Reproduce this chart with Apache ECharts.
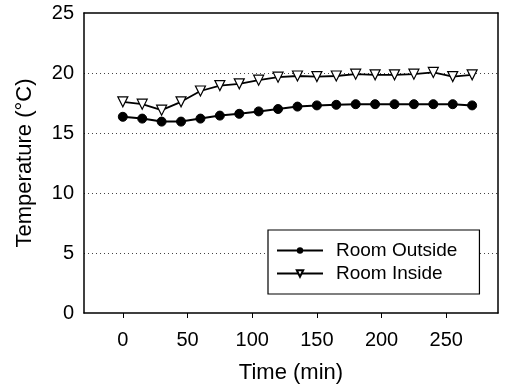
<!DOCTYPE html>
<html>
<head>
<meta charset="utf-8">
<script src="https://cdn.jsdelivr.net/npm/echarts@6/dist/echarts.min.js"></script>
<style>
  html, body { margin: 0; padding: 0; background: #fff; }
  #chart { width: 508px; height: 386px; }
</style>
</head>
<body>
<div id="chart"></div>
<script>
// valeurs
var timeMin = [0, 15, 30, 45, 60, 75, 90, 105, 120, 135, 150, 165, 180, 195, 210, 225, 240, 255, 270];
var roomOutside = [16.35, 16.2, 15.95, 15.95, 16.2, 16.45, 16.6, 16.8, 17.0, 17.2, 17.3, 17.35, 17.4, 17.4, 17.4, 17.4, 17.4, 17.4, 17.3];
var roomInside = [17.6, 17.4, 16.9, 17.6, 18.5, 18.95, 19.1, 19.4, 19.65, 19.75, 19.7, 19.75, 19.9, 19.85, 19.85, 19.9, 20.05, 19.7, 19.85];
var xTicks = [0, 50, 100, 150, 200, 250];

var fontFamily = '"Liberation Sans", Arial, sans-serif';

function pairs(xs, ys) {
  return xs.map(function (x, i) { return [x, ys[i]]; });
}

var chart = echarts.init(document.getElementById('chart'), null, {renderer: 'canvas'});
var option = {
  animation: false,
  backgroundColor: '#fff',
  textStyle: {fontFamily: fontFamily, color: '#000'},
  grid: {left: 84, right: 10, top: 13, bottom: 73, outerBoundsMode: 'none'},
  legend: {
    orient: 'vertical',
    left: 268,
    top: 230,
    padding: [11, 22, 11, 8],
    itemGap: 4,
    itemWidth: 46,
    itemHeight: 8,
    borderColor: '#000',
    borderWidth: 1.2,
    backgroundColor: '#fff',
    textStyle: {fontFamily: fontFamily, fontSize: 19, color: '#000', padding: [0, 0, 0, 8]},
    data: ['Room Outside', 'Room Inside']
  },
  xAxis: [
    {
      type: 'value',
      min: -30,
      max: 290,
      name: 'Time (min)',
      nameLocation: 'middle',
      nameGap: 49,
      nameTextStyle: {fontFamily: fontFamily, fontSize: 22, color: '#000'},
      axisLine: {onZero: false, lineStyle: {color: '#000', width: 1.5}},
      axisTick: {show: true, length: 5, customValues: xTicks, lineStyle: {color: '#000'}},
      axisLabel: {customValues: xTicks, fontFamily: fontFamily, fontSize: 20, color: '#000', margin: 17},
      splitLine: {show: false}
    },
    {
      type: 'value',
      position: 'top',
      min: -30,
      max: 290,
      axisLine: {show: true, onZero: false, lineStyle: {color: '#000', width: 1.5}},
      axisTick: {show: false},
      axisLabel: {show: false},
      splitLine: {show: false}
    }
  ],
  yAxis: [
    {
      type: 'value',
      min: 0,
      max: 25,
      interval: 5,
      name: 'Temperature (\u00B0C)',
      nameLocation: 'middle',
      nameGap: 48,
      nameTextStyle: {fontFamily: fontFamily, fontSize: 22, color: '#000'},
      axisLine: {show: true, onZero: false, lineStyle: {color: '#000', width: 1.5}},
      axisTick: {show: false},
      axisLabel: {fontFamily: fontFamily, fontSize: 20, color: '#000', margin: 10},
      splitLine: {
        show: true,
        showMinLine: false,
        showMaxLine: false,
        lineStyle: {color: '#444', type: [1, 3], width: 1}
      }
    },
    {
      type: 'value',
      position: 'right',
      min: 0,
      max: 25,
      axisLine: {show: true, onZero: false, lineStyle: {color: '#000', width: 1.5}},
      axisTick: {show: false},
      axisLabel: {show: false},
      splitLine: {show: false}
    }
  ],
  series: [
    {
      name: 'Room Outside',
      type: 'line',
      data: pairs(timeMin, roomOutside),
      symbol: 'circle',
      symbolSize: 9,
      lineStyle: {color: '#000', width: 2},
      itemStyle: {color: '#000', borderColor: '#000'}
    },
    {
      name: 'Room Inside',
      type: 'line',
      data: pairs(timeMin, roomInside),
      symbol: 'triangle',
      symbolRotate: 180,
      symbolSize: 10,
      lineStyle: {color: '#000', width: 1.8},
      itemStyle: {color: '#fff', borderColor: '#000', borderWidth: 1.2}
    }
  ]
};

chart.setOption(option);
</script>
</body>
</html>
